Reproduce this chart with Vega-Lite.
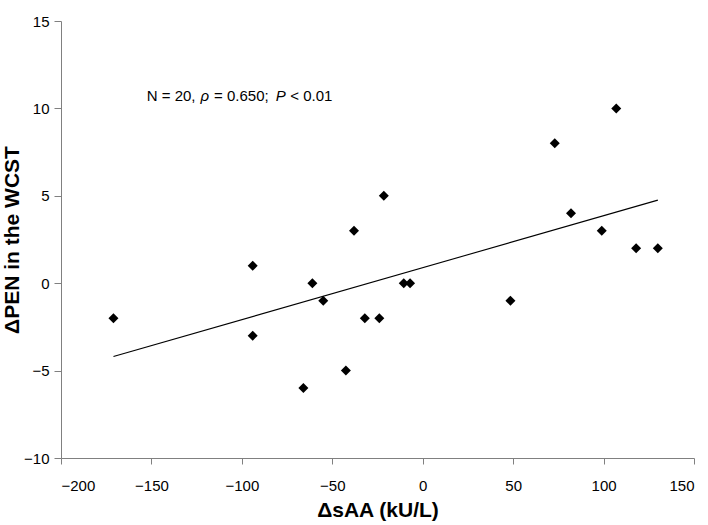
{
  "$schema": "https://vega.github.io/schema/vega-lite/v6.json",
  "width": 633,
  "height": 437,
  "autosize": "none",
  "padding": {"left": 61, "top": 21, "right": 14, "bottom": 67},
  "background": "white",
  "config": {"view": {"stroke": null}, "font": "Liberation Sans"},
  "datasets": {
    "points": [
      {"x": -171, "y": -2},
      {"x": -94, "y": 1},
      {"x": -94, "y": -3},
      {"x": -61, "y": 0},
      {"x": -55, "y": -1},
      {"x": -66, "y": -6},
      {"x": -38, "y": 3},
      {"x": -42.5, "y": -5},
      {"x": -21.5, "y": 5},
      {"x": -32, "y": -2},
      {"x": -24, "y": -2},
      {"x": -10.5, "y": 0},
      {"x": -7, "y": 0},
      {"x": 48.5, "y": -1},
      {"x": 73, "y": 8},
      {"x": 82, "y": 4},
      {"x": 99, "y": 3},
      {"x": 107, "y": 10},
      {"x": 118, "y": 2},
      {"x": 130, "y": 2}
    ],
    "note": [
      {"part": "N = 20, ", "x": -152.6, "y": 10.42, "style": "normal"},
      {"part": "ρ", "x": -122.8, "y": 10.42, "style": "italic"},
      {"part": " = 0.650; ", "x": -115.4, "y": 10.42, "style": "normal"},
      {"part": "P", "x": -81.2, "y": 10.42, "style": "italic"},
      {"part": " < 0.01", "x": -73.2, "y": 10.42, "style": "normal"}
    ]
  },
  "layer": [
    {
      "data": {"name": "points"},
      "transform": [{"regression": "y", "on": "x"}],
      "mark": {"type": "line", "color": "black", "strokeWidth": 1.1},
      "encoding": {
        "x": {
          "field": "x",
          "type": "quantitative",
          "scale": {"domain": [-200, 150], "nice": false, "zero": false},
          "axis": {
            "title": "ΔsAA (kU/L)",
            "values": [-200, -150, -100, -50, 0, 50, 100, 150],
            "grid": false,
            "domainColor": "#808080",
            "tickColor": "#808080",
            "tickSize": 6,
            "labelFontSize": 15,
            "labelColor": "black",
            "labelPadding": 14,
            "titleFontSize": 21,
            "titleFontWeight": "bold",
            "titleColor": "black",
            "titlePadding": 6
          }
        },
        "y": {
          "field": "y",
          "type": "quantitative",
          "scale": {"domain": [-10, 15], "nice": false, "zero": false},
          "axis": {
            "title": "ΔPEN in the WCST",
            "values": [-10, -5, 0, 5, 10, 15],
            "grid": false,
            "domainColor": "#808080",
            "tickColor": "#808080",
            "tickSize": 7,
            "labelFontSize": 15,
            "labelColor": "black",
            "labelPadding": 5,
            "titleFontSize": 21,
            "titleFontWeight": "bold",
            "titleColor": "black",
            "titlePadding": 1
          }
        }
      }
    },
    {
      "data": {"name": "points"},
      "mark": {"type": "point", "shape": "diamond", "filled": true, "color": "black", "size": 100, "opacity": 1},
      "encoding": {
        "x": {"field": "x", "type": "quantitative"},
        "y": {"field": "y", "type": "quantitative"}
      }
    },
    {
      "data": {"name": "note"},
      "transform": [{"filter": "datum.style === 'normal'"}],
      "mark": {"type": "text", "align": "left", "baseline": "alphabetic", "fontSize": 15, "color": "black"},
      "encoding": {
        "x": {"field": "x", "type": "quantitative"},
        "y": {"field": "y", "type": "quantitative"},
        "text": {"field": "part"}
      }
    },
    {
      "data": {"name": "note"},
      "transform": [{"filter": "datum.style === 'italic'"}],
      "mark": {"type": "text", "align": "left", "baseline": "alphabetic", "fontSize": 15, "fontStyle": "italic", "color": "black"},
      "encoding": {
        "x": {"field": "x", "type": "quantitative"},
        "y": {"field": "y", "type": "quantitative"},
        "text": {"field": "part"}
      }
    }
  ]
}
